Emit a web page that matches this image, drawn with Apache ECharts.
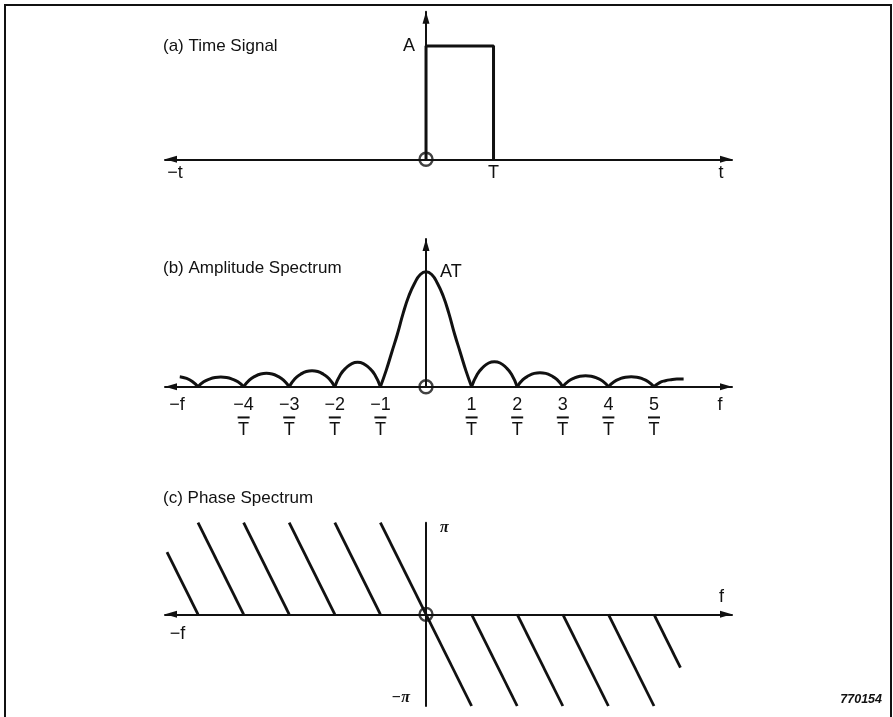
<!DOCTYPE html>
<html>
<head>
<meta charset="utf-8">
<script src="https://cdn.jsdelivr.net/npm/echarts@6/dist/echarts.min.js"></script>
<style>
  html, body { margin: 0; padding: 0; background: #fff; }
  #chart { width: 893px; height: 717px; }
</style>
</head>
<body>
<div id="chart"></div>
<script>
// (a) Rectangular pulse: height A (=1), duration T (=1)
const pulsePoints = [[0, 0], [0, 1], [1, 1], [1, 0]];
const timeLabels = [[-3.72, '−t'], [1, 'T'], [4.37, 't']];

// (b) Amplitude spectrum, frequency in units of 1/T, amplitude in units of AT
const mainLobe = [
  [-1, 0], [-0.875, 0.14], [-0.75, 0.30], [-0.625, 0.46], [-0.5, 0.64], [-0.375, 0.79],
  [-0.25, 0.90], [-0.125, 0.975], [0, 1], [0.125, 0.975], [0.25, 0.90], [0.375, 0.79],
  [0.5, 0.64], [0.625, 0.46], [0.75, 0.30], [0.875, 0.14], [1, 0]
];
const leftLobes = [
  [[-5.4, 0.087], [-5.25, 0.072], [-5.125, 0.045], [-5, 0]],
  [[-5, 0], [-4.875, 0.042], [-4.75, 0.066], [-4.625, 0.080], [-4.5, 0.084],
   [-4.375, 0.080], [-4.25, 0.066], [-4.125, 0.042], [-4, 0]],
  [[-4, 0], [-3.875, 0.058], [-3.75, 0.090], [-3.625, 0.110], [-3.5, 0.116],
   [-3.375, 0.110], [-3.25, 0.090], [-3.125, 0.058], [-3, 0]],
  [[-3, 0], [-2.875, 0.070], [-2.75, 0.108], [-2.625, 0.132], [-2.5, 0.139],
   [-2.375, 0.132], [-2.25, 0.108], [-2.125, 0.070], [-2, 0]],
  [[-2, 0], [-1.875, 0.106], [-1.75, 0.165], [-1.625, 0.201], [-1.5, 0.212],
   [-1.375, 0.201], [-1.25, 0.165], [-1.125, 0.106], [-1, 0]]
];
const rightLobes = [
  [[1, 0], [1.125, 0.108], [1.25, 0.169], [1.375, 0.206], [1.5, 0.217],
   [1.625, 0.206], [1.75, 0.169], [1.875, 0.108], [2, 0]],
  [[2, 0], [2.125, 0.061], [2.25, 0.095], [2.375, 0.116], [2.5, 0.122],
   [2.625, 0.116], [2.75, 0.095], [2.875, 0.061], [3, 0]],
  [[3, 0], [3.125, 0.048], [3.25, 0.075], [3.375, 0.091], [3.5, 0.096],
   [3.625, 0.091], [3.75, 0.075], [3.875, 0.048], [4, 0]],
  [[4, 0], [4.125, 0.043], [4.25, 0.068], [4.375, 0.083], [4.5, 0.087],
   [4.625, 0.083], [4.75, 0.068], [4.875, 0.043], [5, 0]],
  [[5, 0], [5.125, 0.036], [5.25, 0.052], [5.375, 0.061], [5.5, 0.066], [5.65, 0.067]]
];
const freqTicks = [-4, -3, -2, -1, 1, 2, 3, 4, 5];
const freqEnds = [[-5.46, '−f'], [6.45, 'f']];

// (c) Phase spectrum, phase in units of π
const phaseSegments = [
  [[-5.68, 0.68], [-5, 0]],
  [[-5, 1], [-4, 0]],
  [[-4, 1], [-3, 0]],
  [[-3, 1], [-2, 0]],
  [[-2, 1], [-1, 0]],
  [[-1, 1], [1, -1]],
  [[1, 0], [2, -1]],
  [[2, 0], [3, -1]],
  [[3, 0], [4, -1]],
  [[4, 0], [5, -1]],
  [[5, 0], [5.58, -0.58]]
];
const phaseEndLabels = [[-5.45, '−f']];

const panelTitles = ['(a) Time Signal', '(b) Amplitude Spectrum', '(c) Phase Spectrum'];
const figureNumber = '770154';

const INK = '#111';
const SANS = '"Liberation Sans", Arial, Helvetica, sans-serif';
const SERIF = '"Liberation Serif", "DejaVu Serif", serif';

// plot frame shared by all three panels
const PLOT_LEFT = 165;
const PLOT_WIDTH = 567;
const ORIGIN_X = 426;                         // where f = 0 / t = 0 sits
const Y_AXIS_SHIFT = -(ORIGIN_X - PLOT_LEFT); // moves each vertical axis onto the origin

const axisLineBoth = {
  onZero: false,
  symbol: ['triangle', 'triangle'],
  symbolSize: [7, 12],
  symbolOffset: [6, -6],
  lineStyle: { color: INK, width: 2 }
};
const axisLineUp = {
  onZero: false,
  symbol: ['none', 'triangle'],
  symbolSize: [7, 12],
  symbolOffset: [0, -6],
  lineStyle: { color: INK, width: 2 }
};
const labelFont = { color: INK, fontFamily: SANS, fontSize: 18 };
const titleFont = { color: INK, fontFamily: SANS, fontSize: 17, fontWeight: 'normal' };

function lookup(list, v) {
  const hit = list.find(p => Math.abs(p[0] - v) < 1e-6);
  return hit ? hit[1] : '';
}

const lobeSeries = [mainLobe, ...leftLobes, ...rightLobes].map(pts => ({
  type: 'line',
  xAxisIndex: 1, yAxisIndex: 1,
  data: pts,
  smooth: 0.5,
  symbol: 'none',
  clip: false,
  lineStyle: { color: INK, width: 3 },
  silent: true
}));

function originCircle(idx) {
  return {
    type: 'scatter',
    xAxisIndex: idx, yAxisIndex: idx,
    data: [[0, 0]],
    symbol: 'circle',
    symbolSize: 13,
    itemStyle: { color: 'rgba(0,0,0,0)', borderColor: INK, borderWidth: 2.4 },
    z: 5,
    clip: false,
    silent: true
  };
}

const option = {
  animation: false,
  backgroundColor: '#fff',
  title: [
    { text: panelTitles[0], left: 163, top: 37.5, padding: 0, textStyle: titleFont },
    { text: panelTitles[1], left: 163, top: 260, padding: 0, textStyle: titleFont },
    { text: panelTitles[2], left: 163, top: 490, padding: 0, textStyle: titleFont },
    { text: figureNumber, right: 11, top: 693, padding: 0,
      textStyle: { color: INK, fontFamily: SANS, fontSize: 12.5, fontWeight: 'bold', fontStyle: 'italic' } }
  ],
  graphic: [
    { type: 'rect', silent: true, shape: { x: 5, y: 5, width: 886, height: 740 },
      style: { fill: 'none', stroke: INK, lineWidth: 2 } }
  ],
  grid: [
    { left: PLOT_LEFT, width: PLOT_WIDTH, top: 11.7, height: 147.6, outerBoundsMode: 'none' },
    { left: PLOT_LEFT, width: PLOT_WIDTH, top: 239, height: 147.7, outerBoundsMode: 'none' },
    { left: PLOT_LEFT, width: PLOT_WIDTH, top: 522.7, height: 183.3, outerBoundsMode: 'none' }
  ],
  xAxis: [
    {
      gridIndex: 0, type: 'value', min: -3.867, max: 4.533, position: 'bottom',
      axisLine: axisLineBoth, axisTick: { show: false }, splitLine: { show: false },
      axisLabel: {
        ...labelFont, margin: 5,
        customValues: timeLabels.map(p => p[0]),
        formatter: v => lookup(timeLabels, v)
      }
    },
    {
      gridIndex: 1, type: 'value', min: -5.724, max: 6.711, position: 'bottom',
      axisLine: axisLineBoth, axisTick: { show: false }, splitLine: { show: false },
      axisLabel: {
        ...labelFont, margin: 12,
        customValues: [freqEnds[0][0], ...freqTicks, freqEnds[1][0]],
        formatter: v => {
          if (freqTicks.includes(v)) {
            const num = v < 0 ? '−' + Math.abs(v) : String(v);
            return '{n|' + num + '}\n{b| }\n{n|T}';
          }
          return '{n|' + lookup(freqEnds, v) + '}';
        },
        rich: {
          n: { fontSize: 18, lineHeight: 12.5, color: INK, fontFamily: SANS },
          b: { width: 12, height: 2, lineHeight: 12.5, backgroundColor: INK }
        }
      }
    },
    {
      gridIndex: 2, type: 'value', min: -5.724, max: 6.711, position: 'bottom',
      offset: -91.65,
      axisLine: axisLineBoth, axisTick: { show: false }, splitLine: { show: false },
      name: 'f', nameLocation: 'end', nameGap: -13,
      nameTextStyle: { ...labelFont, align: 'left', verticalAlign: 'bottom', padding: [0, 0, 8, 0] },
      axisLabel: {
        ...labelFont, margin: 11,
        customValues: phaseEndLabels.map(p => p[0]),
        formatter: v => lookup(phaseEndLabels, v)
      }
    }
  ],
  yAxis: [
    {
      gridIndex: 0, type: 'value', min: 0, max: 1.303, position: 'left', offset: Y_AXIS_SHIFT,
      axisLine: axisLineUp, axisTick: { show: false }, splitLine: { show: false },
      axisLabel: { ...labelFont, margin: 11, customValues: [1], formatter: () => 'A' }
    },
    {
      gridIndex: 1, type: 'value', min: 0, max: 1.284, position: 'left', offset: Y_AXIS_SHIFT,
      axisLine: axisLineUp, axisTick: { show: false }, splitLine: { show: false },
      axisLabel: { ...labelFont, inside: true, margin: 14, customValues: [1], formatter: () => 'AT' }
    },
    {
      gridIndex: 2, type: 'value', min: -1, max: 1, position: 'left', offset: Y_AXIS_SHIFT,
      axisLine: { onZero: false, lineStyle: { color: INK, width: 2 } },
      axisTick: { show: false }, splitLine: { show: false },
      name: 'π', nameLocation: 'end', nameGap: 3,
      nameTextStyle: { color: INK, fontFamily: SERIF, fontStyle: 'italic', fontWeight: 'bold', fontSize: 16,
        align: 'left', verticalAlign: 'top', padding: [0, 0, 0, 14] },
      axisLabel: { color: INK, fontFamily: SERIF, fontStyle: 'italic', fontWeight: 'bold', fontSize: 16,
        margin: 16, verticalAlign: 'bottom', customValues: [-1], formatter: () => '−π' }
    }
  ],
  series: [
    {
      type: 'line', xAxisIndex: 0, yAxisIndex: 0,
      data: pulsePoints, symbol: 'none', clip: false,
      lineStyle: { color: INK, width: 3 }, silent: true
    },
    originCircle(0),
    ...lobeSeries,
    originCircle(1),
    {
      type: 'lines', coordinateSystem: 'cartesian2d', xAxisIndex: 2, yAxisIndex: 2,
      data: phaseSegments.map(s => ({ coords: s })),
      clip: false,
      lineStyle: { color: INK, width: 2.8, opacity: 1, curveness: 0 },
      silent: true
    },
    originCircle(2)
  ]
};

const chart = echarts.init(document.getElementById('chart'), null, { renderer: 'canvas' });
chart.setOption(option);
</script>
</body>
</html>
